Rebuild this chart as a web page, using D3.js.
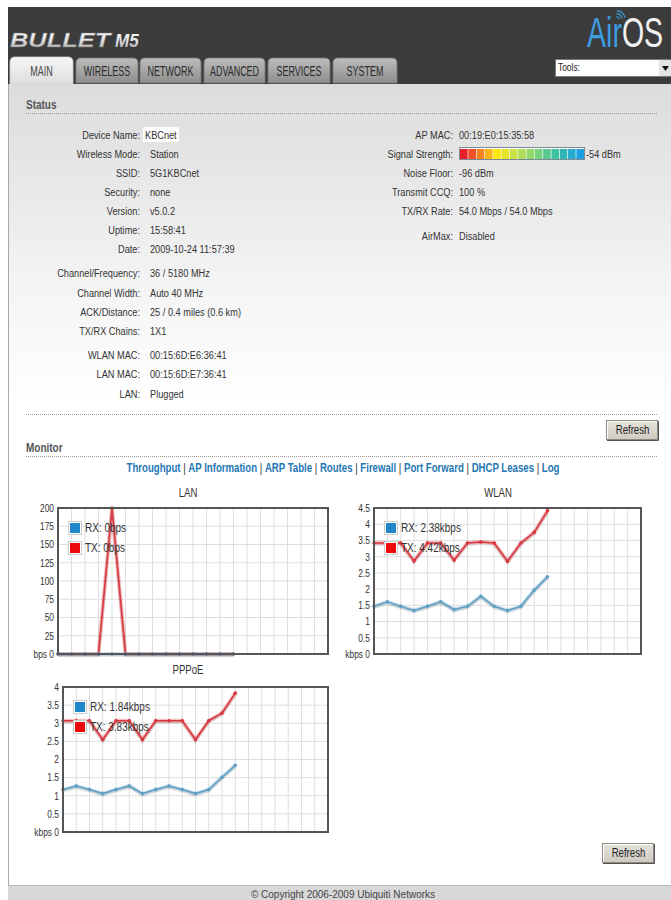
<!DOCTYPE html>
<html><head><meta charset="utf-8">
<script src="https://cdn.jsdelivr.net/npm/d3@7"></script>
<style>
html,body{margin:0;padding:0;background:#fff;}
svg{display:block;}
text{font-family:"Liberation Sans",Arial,sans-serif;}
</style></head><body>
<svg id="c" width="671" height="900"></svg>
<script>
// ---------- data ----------
const tabs = ["MAIN", "WIRELESS", "NETWORK", "ADVANCED", "SERVICES", "SYSTEM"];
const statusLabels = ["Device Name:", "Wireless Mode:", "SSID:", "Security:", "Version:", "Uptime:", "Date:",
  "Channel/Frequency:", "Channel Width:", "ACK/Distance:", "TX/RX Chains:", "WLAN MAC:", "LAN MAC:", "LAN:"];
const statusValues = ["KBCnet", "Station", "5G1KBCnet", "none", "v5.0.2", "15:58:41", "2009-10-24 11:57:39",
  "36 / 5180 MHz", "Auto 40 MHz", "25 / 0.4 miles (0.6 km)", "1X1", "00:15:6D:E6:36:41", "00:15:6D:E7:36:41", "Plugged"];
const infoLabels = ["AP MAC:", "Signal Strength:", "Noise Floor:", "Transmit CCQ:", "TX/RX Rate:", "AirMax:"];
const infoValues = ["00:19:E0:15:35:58", "-54 dBm", "-96 dBm", "100 %", "54.0 Mbps  / 54.0 Mbps", "Disabled"];
const signalLevels = [1, 2, 3, 4, 5, 6, 7, 8, 9, 10, 11, 12, 13, 14, 15];
const monitorLinks = ["Throughput", "AP Information", "ARP Table", "Routes", "Firewall", "Port Forward", "DHCP Leases", "Log"];

const lanTx = [0, 0, 0, 0, 200, 0, 0, 0, 0, 0, 0, 0, 0, 0];
const lanRx = [0, 0, 0, 0, 0, 0, 0, 0, 0, 0, 0, 0, 0, 0];
const lanTicks = [0, 25, 50, 75, 100, 125, 150, 175, 200];
const wlanTx = [3.42, 3.42, 3.42, 2.87, 3.42, 3.42, 2.90, 3.42, 3.45, 3.42, 2.86, 3.42, 3.75, 4.42];
const wlanRx = [1.47, 1.61, 1.47, 1.34, 1.47, 1.61, 1.37, 1.47, 1.78, 1.47, 1.34, 1.47, 1.97, 2.38];
const wlanTicks = [0, 0.5, 1, 1.5, 2, 2.5, 3, 3.5, 4, 4.5];
const pppoeTx = [3.07, 3.07, 3.07, 2.55, 3.07, 3.07, 2.55, 3.07, 3.07, 3.07, 2.55, 3.07, 3.28, 3.83];
const pppoeRx = [1.17, 1.27, 1.17, 1.06, 1.17, 1.27, 1.06, 1.17, 1.27, 1.17, 1.06, 1.17, 1.51, 1.84];
const pppoeTicks = [0, 0.5, 1, 1.5, 2, 2.5, 3, 3.5, 4];

// ---------- drawing ----------
const svg = d3.select("#c");
const defs = svg.append("defs");
function lg(id, stops) {
  const g = defs.append("linearGradient").attr("id", id).attr("x1", 0).attr("y1", 0).attr("x2", 0).attr("y2", 1);
  stops.forEach(s => g.append("stop").attr("offset", s[0]).attr("stop-color", s[1]));
}
lg("bg", [[0, "#dcdcdc"], [0.25, "#f4f4f4"], [0.4, "#ffffff"], [1, "#ffffff"]]);
lg("tabOff", [[0, "#bdbdbd"], [1, "#8e8e8e"]]);
lg("tabOn", [[0, "#f6f6f6"], [1, "#dedede"]]);
lg("logo", [[0, "#ffffff"], [0.5, "#e4e4e4"], [1, "#a0a0a0"]]);
lg("btn", [[0, "#e6e3dc"], [1, "#cfcbc2"]]);

// header
svg.append("rect").attr("x", 8).attr("y", 7).attr("width", 663).attr("height", 77).attr("fill", "#3c3c3c");
svg.append("text").attr("data-sx", 1).attr("transform", "translate(10,47) scale(1.27,1)").attr("font-family", "DejaVu Sans").attr("font-weight", "bold")
  .attr("font-style", "italic").attr("font-size", 20).attr("fill", "url(#logo)").attr("stroke", "#777").attr("stroke-width", 0.4)
  .text("BULLET");
svg.append("text").attr("data-sx", 1).attr("transform", "translate(115,47) scale(0.95,1)").attr("font-family", "DejaVu Sans")
  .attr("font-weight", "bold").attr("font-style", "italic").attr("font-size", 18).attr("fill", "url(#logo)").text("M5");
const airos = svg.append("text").attr("data-sx", 1).attr("transform", "translate(587,47) scale(0.68,1)").attr("font-size", 42);
airos.append("tspan").attr("fill", "#3d9be0").text("Air");
airos.append("tspan").attr("fill", "#f2f2f2").text("OS");
[4, 7, 10].forEach(r => svg.append("path").attr("d", d3.arc()({innerRadius: r - 1.2, outerRadius: r, startAngle: 0.1, endAngle: 1.3}))
  .attr("transform", "translate(616,20)").attr("fill", "#3d9be0"));

// content background
svg.append("rect").attr("x", 8).attr("y", 84).attr("width", 663).attr("height", 802).attr("fill", "url(#bg)");
svg.append("line").attr("x1", 8.5).attr("x2", 8.5).attr("y1", 84).attr("y2", 886).attr("stroke", "#a8a8a8");

// tabs
const tabX = [10, 76, 140, 204, 268, 333];
const tabW = [63, 62, 61, 61, 62, 64];
function tabPath(x, y, w, h, r) {
  return `M${x},${y + h} L${x},${y + r} Q${x},${y} ${x + r},${y} L${x + w - r},${y} Q${x + w},${y} ${x + w},${y + r} L${x + w},${y + h} Z`;
}
tabs.forEach((t, i) => {
  const on = i === 0;
  svg.append("path").attr("d", tabPath(tabX[i], on ? 57 : 58, tabW[i], on ? 27 : 25, 5))
    .attr("fill", on ? "url(#tabOn)" : "url(#tabOff)").attr("stroke", on ? "#cfcfcf" : "#777").attr("stroke-width", 0.8);
  svg.append("text").attr("data-sx", 0.64).attr("x", tabX[i] + tabW[i] / 2).attr("y", 76).attr("text-anchor", "middle")
    .attr("font-size", 14).attr("fill", on ? "#444" : "#2b2b2b").text(t);
});
// tools select
svg.append("rect").attr("x", 555.5).attr("y", 59.5).attr("width", 120).attr("height", 17).attr("fill", "#fff").attr("stroke", "#7a7a7a");
svg.append("text").attr("x", 558).attr("y", 71.5).attr("font-size", 10.5).attr("fill", "#222").text("Tools:");
svg.append("rect").attr("x", 659).attr("y", 60).attr("width", 12).attr("height", 16).attr("fill", "#e4e4e4");
svg.append("path").attr("d", "M662,66 L669,66 L665.5,71 Z").attr("fill", "#111");

// helpers
function heading(txt, y) {
  svg.append("text").attr("x", 26).attr("y", y).attr("font-size", 12.5).attr("font-weight", "bold").attr("fill", "#555").text(txt);
}
function dotted(y) {
  svg.append("line").attr("x1", 26).attr("x2", 658).attr("y1", y + 0.5).attr("y2", y + 0.5)
    .attr("stroke", "#9a9a9a").attr("stroke-dasharray", "1,1");
}
function button(x, y, w, h) {
  svg.append("rect").attr("x", x + 0.5).attr("y", y + 0.5).attr("width", w).attr("height", h).attr("fill", "url(#btn)").attr("stroke", "#8e8a82");
  svg.append("path").attr("d", `M${x + 1.5},${y + h - 0.5} L${x + 1.5},${y + 1.5} L${x + w - 0.5},${y + 1.5}`).attr("stroke", "#fff").attr("fill", "none");
  svg.append("path").attr("d", `M${x + 1},${y + h + 1.5} L${x + w + 1.5},${y + h + 1.5} L${x + w + 1.5},${y + 1}`).attr("stroke", "#555").attr("fill", "none");
  svg.append("text").attr("x", x + w / 2 + 1).attr("y", y + h / 2 + 4.5).attr("text-anchor", "middle").attr("font-size", 12).attr("fill", "#222").text("Refresh");
}

// Status
heading("Status", 109);
dotted(113);
const leftRowY = [135, 154, 173, 192, 211, 230, 249, 273, 293, 312, 331, 355, 374, 394];
svg.append("rect").attr("x", 143).attr("y", 127).attr("width", 36).attr("height", 15).attr("fill", "#fff").attr("opacity", 0.9);
statusLabels.forEach((l, i) => {
  svg.append("text").attr("x", 140).attr("y", leftRowY[i] + 4).attr("text-anchor", "end").attr("font-size", 11.5).attr("fill", "#333").text(l);
  svg.append("text").attr("x", i === 0 ? 145 : 150).attr("y", leftRowY[i] + 4).attr("font-size", 11.5).attr("fill", "#333").text(statusValues[i]);
});
const rightRowY = [135, 154, 173, 192, 211, 236];
infoLabels.forEach((l, i) => {
  svg.append("text").attr("x", 453).attr("y", rightRowY[i] + 4).attr("text-anchor", "end").attr("font-size", 11.5).attr("fill", "#333").text(l);
  const vx = i === 1 ? 586 : 459;
  svg.append("text").attr("x", vx).attr("y", rightRowY[i] + 4).attr("font-size", 11.5).attr("fill", "#333").text(infoValues[i]);
});
// signal bar
const sigColor = d3.scaleLinear().domain([1, 3, 5, 8, 12, 15])
  .range(["#e81e2a", "#f5811f", "#fbe80f", "#b0de5c", "#3cc2a0", "#1b9fe2"]);
const sxb = d3.scaleBand().domain(signalLevels).range([460, 584]).paddingInner(0.08);
svg.append("rect").attr("x", 459.5).attr("y", 147.5).attr("width", 125).attr("height", 12).attr("fill", "#fff").attr("stroke", "#7c8a96");
svg.selectAll(".sig").data(signalLevels).join("rect").attr("x", d => sxb(d)).attr("y", 149)
  .attr("width", sxb.bandwidth()).attr("height", 10).attr("fill", d => sigColor(d));

dotted(414);
button(606, 420, 51, 19);

// Monitor
heading("Monitor", 452);
dotted(456);
const linkG = svg.append("text").attr("data-sx", 0.77).attr("x", 343).attr("y", 472).attr("text-anchor", "middle").attr("font-size", 12.5).attr("font-weight", "bold");
monitorLinks.forEach((l, i) => {
  if (i > 0) linkG.append("tspan").attr("fill", "#333").attr("font-weight", "normal").text(" | ");
  linkG.append("tspan").attr("fill", "#2577b3").text(l);
});

// charts
const TX_LINE = "#d9363e", RX_LINE = "#5f9fc4", TX_KEY = "#ee0a0a", RX_KEY = "#1f86cc";
function drawChart(c) {
  const x = d3.scaleLinear().domain([0, 20]).range([c.left, c.right]);
  const y = d3.scaleLinear().domain([0, d3.max(c.ticks)]).range([c.bottom, c.top]);
  const g = svg.append("g");
  g.append("text").attr("x", c.titleX).attr("y", c.titleY).attr("text-anchor", "middle").attr("font-size", 12).attr("fill", "#333").text(c.title);
  g.append("rect").attr("x", c.left).attr("y", c.top).attr("width", c.right - c.left).attr("height", c.bottom - c.top).attr("fill", "#fff");
  g.selectAll(".vg").data(d3.range(1, 20)).join("line").attr("x1", d => x(d)).attr("x2", d => x(d))
    .attr("y1", c.top).attr("y2", c.bottom).attr("stroke", "#dedede");
  g.selectAll(".hg").data(c.ticks.slice(1, -1)).join("line").attr("y1", d => y(d)).attr("y2", d => y(d))
    .attr("x1", c.left).attr("x2", c.right).attr("stroke", "#dedede");
  const ax = g.append("g").attr("transform", `translate(${c.left},0)`)
    .call(d3.axisLeft(y).tickValues(c.ticks).tickSize(0).tickPadding(4).tickFormat(d => d === 0 ? c.unit + " 0" : d));
  ax.select(".domain").remove();
  ax.selectAll("text").attr("font-size", 10.5).attr("fill", "#333").attr("font-family", '"Liberation Sans",Arial,sans-serif');
  const line = d3.line().x((d, i) => x(i)).y(d => y(d));
  [[c.tx, TX_LINE], [c.rx, RX_LINE]].forEach(([data, col]) => {
    g.append("path").datum(data).attr("d", line).attr("fill", "none").attr("stroke", "rgba(0,0,0,0.10)").attr("stroke-width", 3).attr("transform", "translate(0,1.5)");
    g.append("path").datum(data).attr("d", line).attr("fill", "none").attr("stroke", col).attr("stroke-opacity", 0.3).attr("stroke-width", 4);
    g.append("path").datum(data).attr("d", line).attr("fill", "none").attr("stroke", col).attr("stroke-width", 1.6);
    g.selectAll(null).data(data).join("circle").attr("cx", (d, i) => x(i)).attr("cy", d => y(d)).attr("r", 1.8).attr("fill", col);
  });
  g.append("rect").attr("x", c.left).attr("y", c.top).attr("width", c.right - c.left).attr("height", c.bottom - c.top)
    .attr("fill", "none").attr("stroke", "#555").attr("stroke-width", 2);
  [[c.rxLabel, RX_KEY, 0], [c.txLabel, TX_KEY, 1]].forEach(([lab, col, k]) => {
    const ly = c.top + 13 + k * 20;
    g.append("rect").attr("x", c.left + 10.5).attr("y", ly + 0.5).attr("width", 13).attr("height", 13).attr("fill", "#fff").attr("stroke", "#ccc");
    g.append("rect").attr("x", c.left + 12).attr("y", ly + 2).attr("width", 10).attr("height", 10).attr("fill", col);
    g.append("text").attr("x", c.left + 27).attr("y", ly + 11.5).attr("font-size", 12.5).attr("fill", "#333").text(lab);
  });
}
drawChart({title: "LAN", titleX: 188, titleY: 497, left: 58, right: 328, top: 508, bottom: 654, ticks: lanTicks, unit: "bps",
  tx: lanTx, rx: lanRx, rxLabel: "RX: 0bps", txLabel: "TX: 0bps"});
drawChart({title: "WLAN", titleX: 498, titleY: 497, left: 374, right: 641, top: 508, bottom: 654, ticks: wlanTicks, unit: "kbps",
  tx: wlanTx, rx: wlanRx, rxLabel: "RX: 2.38kbps", txLabel: "TX: 4.42kbps"});
drawChart({title: "PPPoE", titleX: 188, titleY: 674, left: 63, right: 328, top: 687, bottom: 832, ticks: pppoeTicks, unit: "kbps",
  tx: pppoeTx, rx: pppoeRx, rxLabel: "RX: 1.84kbps", txLabel: "TX: 3.83kbps"});

button(602, 843, 51, 19);

// footer
svg.append("rect").attr("x", 8).attr("y", 886).attr("width", 663).attr("height", 14).attr("fill", "#d8d8d8");
svg.append("line").attr("x1", 8).attr("x2", 671).attr("y1", 885.5).attr("y2", 885.5).attr("stroke", "#b8b8b8");
svg.append("text").attr("data-sx", 1).attr("x", 343).attr("y", 898).attr("text-anchor", "middle").attr("font-family", "DejaVu Sans")
  .attr("font-size", 10).attr("fill", "#444").text("© Copyright 2006-2009 Ubiquiti Networks");

// condense text horizontally (the reference uses a narrow face)
svg.selectAll("text").each(function () {
  const s = +(this.getAttribute("data-sx") || 0.8);
  if (s === 1) return;
  const x = +(this.getAttribute("x") || 0);
  const prev = this.getAttribute("transform") || "";
  this.setAttribute("transform", `${prev} translate(${x},0) scale(${s},1) translate(${-x},0)`);
});
</script></body></html>
